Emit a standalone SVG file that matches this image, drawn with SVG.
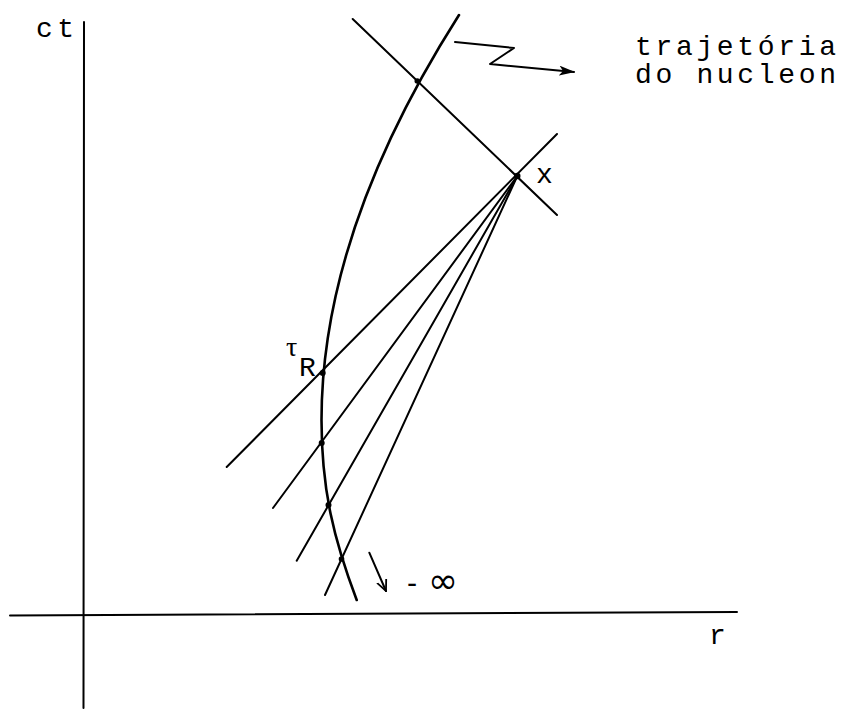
<svg xmlns="http://www.w3.org/2000/svg" width="842" height="710" viewBox="0 0 842 710">
<style>
.ln{fill:none;stroke:#000;stroke-width:2;stroke-linecap:round;stroke-linejoin:round}
.thick{stroke-width:2.6}
.lbl{font-family:"Liberation Mono","DejaVu Sans Mono",monospace;font-size:28px;fill:#000}
.dot{fill:#000}
</style>
<defs>
<marker id="ah" markerWidth="16" markerHeight="10" refX="15" refY="5" orient="auto" markerUnits="userSpaceOnUse">
<path d="M0,0 L16,5 L0,10 L4,5 Z" fill="#000"/>
</marker>
<marker id="ah2" markerWidth="12" markerHeight="12" refX="11" refY="6" orient="auto" markerUnits="userSpaceOnUse">
<path d="M0,1 L11,6 L0,11" fill="none" stroke="#000" stroke-width="1.8"/>
</marker>
</defs>
<rect width="842" height="710" fill="#fff"/>
<g id="axes">
<line class="ln" x1="84" y1="22" x2="83.5" y2="708"/>
<line class="ln" x1="10" y1="615.5" x2="737" y2="612"/>
</g>
<g id="trajectory">
<path class="ln thick" d="M459,15 C378.5,141.5 321.5,280 321.5,420 C321.5,490 334,540 356.7,600"/>
</g>
<g id="connectors">
<line class="ln" x1="352.7" y1="19" x2="557" y2="215"/>
<line class="ln" x1="557" y1="134" x2="226.7" y2="467"/>
<line class="ln" x1="517.3" y1="176" x2="273" y2="508"/>
<line class="ln" x1="517.3" y1="176" x2="296.7" y2="560.7"/>
<line class="ln" x1="517.3" y1="176" x2="325" y2="595"/>
<polyline class="ln" points="455,42 514,48 490,64 574,72" stroke-width="1.8" marker-end="url(#ah)"/>
<polyline class="ln" points="369.3,552.7 386,591" stroke-width="1.8" marker-end="url(#ah2)"/>
</g>
<g id="points">
<circle class="dot" cx="417.3" cy="81" r="2.8"/>
<circle class="dot" cx="517.3" cy="176" r="3.2"/>
<circle class="dot" cx="322.7" cy="373" r="3"/>
<circle class="dot" cx="321.7" cy="443" r="3"/>
<circle class="dot" cx="328.5" cy="505" r="3"/>
<circle class="dot" cx="341.5" cy="559" r="2.8"/>
</g>
<g id="labels">
<text class="lbl" x="36" y="37" textLength="38" lengthAdjust="spacing">ct</text>
<text class="lbl" x="709" y="644">r</text>
<text class="lbl" x="536" y="183">x</text>
<text class="lbl" x="635" y="55" textLength="201" lengthAdjust="spacing">trajetória</text>
<text class="lbl" x="635" y="83" textLength="201" lengthAdjust="spacing">do nucleon</text>
<text x="286" y="356" style="font-family:'Liberation Serif',serif;font-size:28px">τ</text>
<text x="299" y="376" class="lbl">R</text>
<text x="407" y="593" style="font-family:'DejaVu Sans',sans-serif;font-size:28px">-<tspan x="428" style="font-size:36px">∞</tspan></text>
</g>
</svg>
